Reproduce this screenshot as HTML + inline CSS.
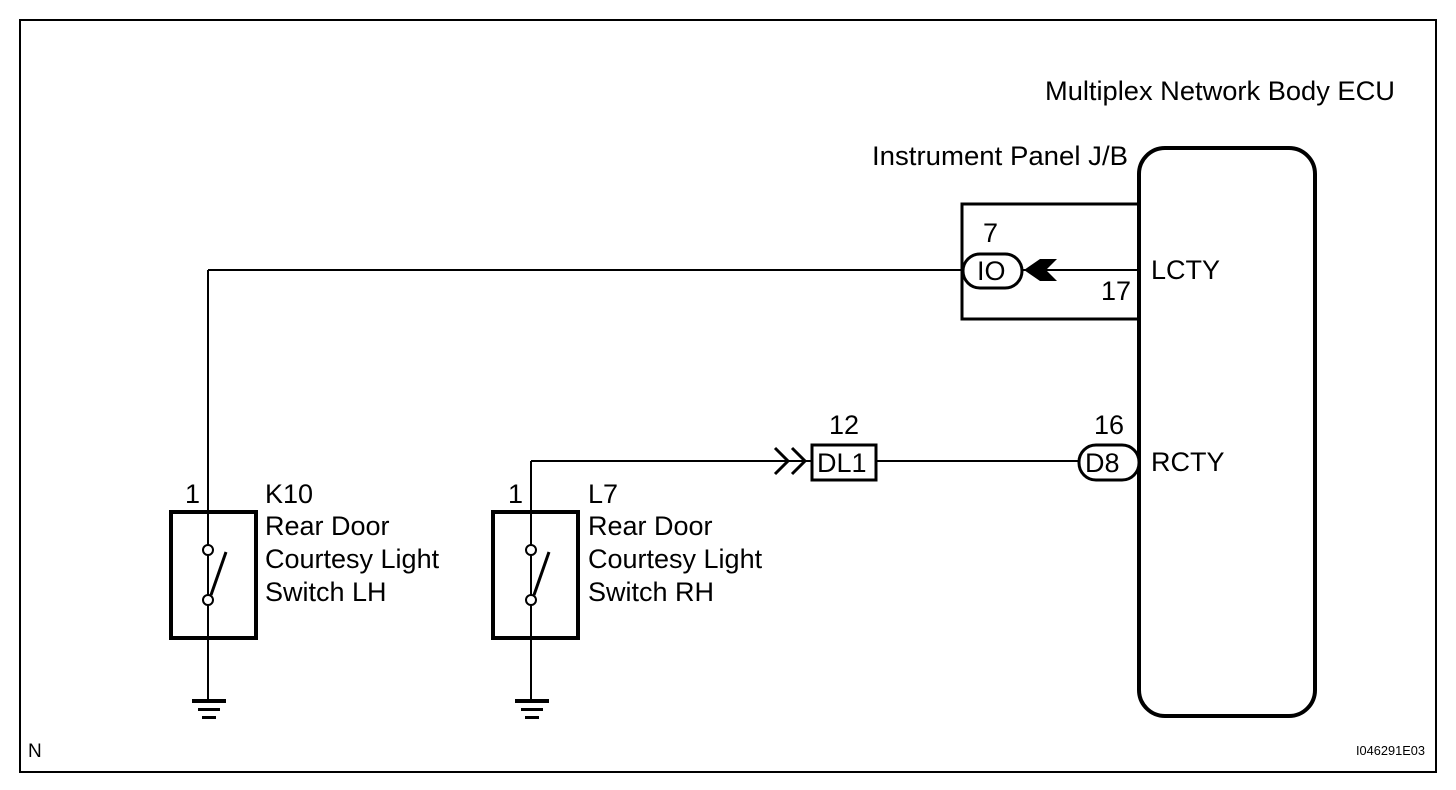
<!DOCTYPE html>
<html><head><style>body{margin:0;background:#fff}svg{display:block}text{font-family:"Liberation Sans",sans-serif;fill:#000}</style></head><body>
<svg width="1456" height="790" viewBox="0 0 1456 790">
<rect x="20" y="20" width="1416" height="752" fill="none" stroke="#000" stroke-width="2"/>
<g stroke="#000" fill="none">
<rect x="1139" y="148" width="176" height="568" rx="26" stroke-width="4"/>
<polyline points="1139,204 962,204 962,319 1139,319" stroke-width="3"/>
<line x1="208" y1="270" x2="1139" y2="270" stroke-width="2"/>
<line x1="208" y1="270" x2="208" y2="700" stroke-width="2"/>
<rect x="963" y="254" width="59" height="34" rx="17" fill="#fff" stroke-width="3"/>
<rect x="171" y="512" width="85" height="126" stroke-width="4"/>
<line x1="531" y1="461" x2="812" y2="461" stroke-width="2"/>
<line x1="531" y1="461" x2="531" y2="700" stroke-width="2"/>
<rect x="493" y="512" width="85" height="126" stroke-width="4"/>
<line x1="876" y1="461" x2="1078" y2="461" stroke-width="2"/>
<rect x="812" y="445" width="64" height="35" fill="#fff" stroke-width="3"/>
<rect x="1079" y="445" width="60" height="35" rx="17" fill="#fff" stroke-width="3"/>
<polyline points="775,448 788,461 775,474" stroke-width="3"/>
<polyline points="792,448 805,461 792,474" stroke-width="3"/>
<circle cx="208" cy="550" r="5" fill="#fff" stroke-width="2"/>
<circle cx="208" cy="600" r="5" fill="#fff" stroke-width="2"/>
<line x1="226" y1="552" x2="211" y2="595" stroke-width="3"/>
<circle cx="531" cy="550" r="5" fill="#fff" stroke-width="2"/>
<circle cx="531" cy="600" r="5" fill="#fff" stroke-width="2"/>
<line x1="549" y1="552" x2="534" y2="595" stroke-width="3"/>
</g>
<polygon points="1024,270 1040,259 1057,259 1046,270 1057,281 1040,281" fill="#000"/>
<g fill="#000">
<rect x="192" y="699" width="34" height="4"/><rect x="198" y="708" width="22" height="3"/><rect x="202" y="716" width="14" height="3"/>
<rect x="515" y="699" width="34" height="4"/><rect x="521" y="708" width="22" height="3"/><rect x="525" y="716" width="14" height="3"/>
</g>
<g font-size="27">
<text x="1045" y="100" textLength="350" lengthAdjust="spacingAndGlyphs">Multiplex Network Body ECU</text>
<text x="872" y="165" textLength="256" lengthAdjust="spacingAndGlyphs">Instrument Panel J/B</text>
<text x="983" y="242">7</text>
<text x="977" y="280">IO</text>
<text x="1101" y="300">17</text>
<text x="1151" y="279">LCTY</text>
<text x="1151" y="471">RCTY</text>
<text x="829" y="434">12</text>
<text x="1094" y="434">16</text>
<text x="817" y="472">DL1</text>
<text x="1085" y="472">D8</text>
<text x="185" y="503">1</text>
<text x="265" y="503">K10</text>
<text x="265" y="535">Rear Door</text>
<text x="265" y="568">Courtesy Light</text>
<text x="265" y="601">Switch LH</text>
<text x="508" y="503">1</text>
<text x="588" y="503">L7</text>
<text x="588" y="535">Rear Door</text>
<text x="588" y="568">Courtesy Light</text>
<text x="588" y="601">Switch RH</text>
<text x="28" y="757" font-size="19">N</text>
</g>
<text x="1356" y="755" font-size="13" textLength="69" lengthAdjust="spacingAndGlyphs">I046291E03</text>
</svg>
</body></html>
